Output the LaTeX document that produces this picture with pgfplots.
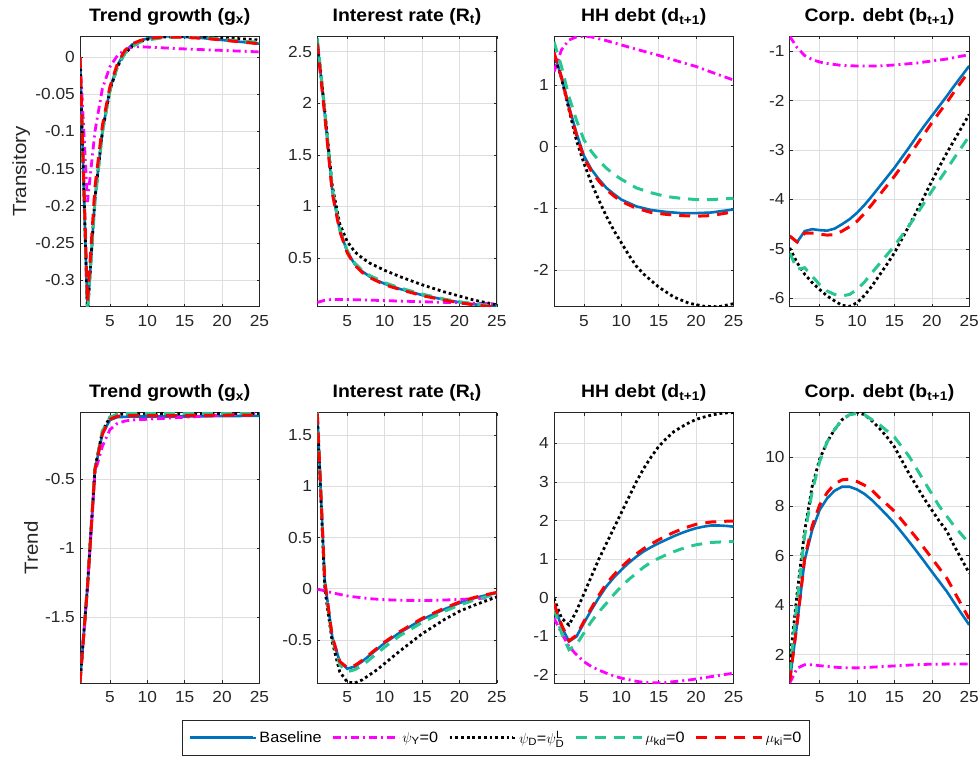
\documentclass[border=0pt]{standalone}
\usepackage{fontspec}
\setmainfont{Liberation Sans}[FakeStretch=1.08]
\usepackage{amsmath}
\usepackage{pgfplots}
\pgfplotsset{compat=1.18}

\definecolor{mblue}{rgb}{0,0.447,0.741}
\definecolor{mmag}{rgb}{1,0,1}
\definecolor{mgreen}{rgb}{0.15,0.78,0.57}
\definecolor{mred}{rgb}{1,0,0}
\definecolor{axgray}{rgb}{0.15,0.15,0.15}
\definecolor{gridgray}{rgb}{0.87,0.87,0.87}

\pgfplotsset{
  panel/.style={
    width=179.5pt, height=270.5pt, scale only axis,
    anchor=north west,
    xmin=1, xmax=25, xtick={5,10,15,20,25},
    grid=major, major grid style={gridgray, line width=0.6pt},
    tick align=inside, major tick length=3pt,
    axis line style={axgray, line width=0.7pt},
    tick style={axgray, line width=0.6pt},
    scaled ticks=false,
    /pgf/number format/.cd, fixed, precision=2, assume math mode=true,
    /pgfplots/.cd,
    ticklabel style={font=\fontsize{16}{18}\selectfont, text=axgray},
    xticklabel style={anchor=north, inner sep=0pt, yshift=-8.5pt},
    yticklabel style={anchor=east, inner sep=0pt, xshift=-5pt},
    title style={at={(0.5,1)}, anchor=base, yshift=9pt, inner sep=0pt,
                 font=\bfseries\fontsize{18}{20}\selectfont},
    ylabel style={anchor=center, font=\fontsize{19}{21}\selectfont, text=axgray},
  },
  sBase/.style={mblue, line width=2.6pt, solid},
  sPsiY/.style={mmag, line width=2.8pt, dash pattern=on 8pt off 4pt on 2pt off 4pt},
  sPsiD/.style={black, line width=2.8pt, dash pattern=on 2.8pt off 2.9pt},
  sMukd/.style={mgreen, line width=3pt, dash pattern=on 11pt off 8pt},
  sMuki/.style={mred, line width=3pt, dash pattern=on 11pt off 8pt},
}

\begin{document}
\begin{tikzpicture}[x=1pt,y=1pt]
\path[use as bounding box] (0,0) rectangle (980,-759);

% ---------- Row 1: transitory shock ----------
\begin{axis}[panel, at={(80pt,-36.3pt)},
  title={Trend growth (g\textsubscript{x})},
  ymin=-0.336, ymax=0.028, ytick={-0.3,-0.25,...,0.01},
  ylabel={Transitory}, ylabel style={at={(axis description cs:-0.327,0.5)}}]
\addplot[sBase] coordinates {(1,0)(2,-0.345)(3,-0.19)(4,-0.10)(5,-0.043)(6,-0.011)(7,0.007)(8,0.017)(9,0.022)(10,0.025)(11,0.027)(12,0.028)(13,0.028)(14,0.028)(15,0.027)(17,0.026)(19,0.024)(21,0.022)(23,0.02)(25,0.018)};
\addplot[sPsiY] coordinates {(1,0)(2,-0.195)(3,-0.10)(4,-0.042)(5,-0.013)(6,0.002)(7,0.010)(8,0.0135)(9,0.014)(10,0.0135)(12,0.0125)(15,0.011)(20,0.009)(25,0.007)};
\addplot[sPsiD] coordinates {(1,0)(2,-0.345)(3,-0.19)(4,-0.10)(5,-0.045)(6,-0.013)(7,0.005)(8,0.015)(9,0.021)(10,0.024)(12,0.027)(14,0.028)(16,0.028)(18,0.027)(20,0.026)(22,0.025)(25,0.023)};
\addplot[sMukd] coordinates {(1,0)(2,-0.345)(3,-0.195)(4,-0.10)(5,-0.045)(6,-0.013)(7,0.005)(8,0.014)(9,0.02)(10,0.023)(12,0.026)(14,0.027)(16,0.027)(18,0.026)(20,0.024)(22,0.022)(25,0.02)};
\addplot[sMuki] coordinates {(1,0)(2,-0.33)(3,-0.175)(4,-0.092)(5,-0.04)(6,-0.009)(7,0.009)(8,0.018)(9,0.022)(10,0.025)(12,0.027)(14,0.027)(16,0.026)(18,0.025)(20,0.023)(22,0.021)(25,0.018)};
\end{axis}

\begin{axis}[panel, at={(317.3pt,-36.3pt)},
  title={Interest rate (R\textsubscript{t})},
  ymin=0.026, ymax=2.65, ytick={0.5,1,1.5,2,2.5}]
\addplot[sBase] coordinates {(1,2.6)(2,1.9)(3,1.15)(4,0.77)(5,0.56)(6,0.44)(7,0.37)(8,0.32)(9,0.28)(10,0.25)(12,0.2)(15,0.14)(18,0.095)(20,0.07)(22,0.05)(25,0.025)};
\addplot[sPsiY] coordinates {(1,0.068)(2,0.09)(3,0.097)(5,0.097)(7,0.093)(10,0.086)(15,0.075)(20,0.065)(25,0.055)};
\addplot[sPsiD] coordinates {(1,2.6)(2,1.93)(3,1.2)(4,0.83)(5,0.66)(6,0.56)(7,0.5)(8,0.45)(10,0.38)(12,0.32)(15,0.24)(18,0.17)(20,0.13)(22,0.09)(25,0.045)};
\addplot[sMukd] coordinates {(1,2.63)(2,1.93)(3,1.17)(4,0.78)(5,0.57)(6,0.45)(7,0.38)(8,0.33)(10,0.26)(12,0.21)(15,0.15)(18,0.1)(20,0.075)(22,0.055)(25,0.03)};
\addplot[sMuki] coordinates {(1,2.58)(2,1.88)(3,1.13)(4,0.76)(5,0.55)(6,0.43)(7,0.36)(8,0.31)(10,0.24)(12,0.195)(15,0.135)(18,0.09)(20,0.065)(22,0.045)(25,0.02)};
\end{axis}

\begin{axis}[panel, at={(554pt,-36.3pt)},
  title={HH debt (d\textsubscript{t+1})},
  ymin=-2.6, ymax=1.79, ytick={-2,-1,0,1}]
\addplot[sBase] coordinates {(1,1.51)(2,1.13)(3,0.65)(4,0.22)(5,-0.15)(6,-0.37)(7,-0.53)(8,-0.67)(9,-0.77)(10,-0.86)(12,-0.97)(14,-1.03)(16,-1.06)(18,-1.08)(20,-1.08)(22,-1.07)(25,-1.02)};
\addplot[sPsiY] coordinates {(1,1.21)(2,1.57)(3,1.73)(4,1.78)(5,1.79)(6,1.78)(7,1.75)(8,1.72)(10,1.65)(12,1.58)(15,1.48)(18,1.37)(20,1.30)(22,1.21)(25,1.08)};
\addplot[sPsiD] coordinates {(1,1.5)(2,1.11)(3,0.6)(4,0.1)(5,-0.27)(6,-0.59)(7,-0.87)(8,-1.13)(9,-1.36)(10,-1.56)(11,-1.76)(12,-1.94)(13,-2.07)(15,-2.28)(17,-2.44)(19,-2.54)(21,-2.59)(23,-2.6)(25,-2.55)};
\addplot[sMukd] coordinates {(1,1.70)(2,1.3)(3,0.81)(4,0.43)(5,0.11)(6,-0.08)(7,-0.23)(8,-0.35)(9,-0.45)(10,-0.53)(12,-0.67)(14,-0.75)(16,-0.81)(18,-0.84)(20,-0.86)(22,-0.86)(25,-0.84)};
\addplot[sMuki] coordinates {(1,1.53)(2,1.12)(3,0.62)(4,0.19)(5,-0.18)(6,-0.4)(7,-0.56)(8,-0.7)(9,-0.8)(10,-0.89)(12,-1.0)(14,-1.07)(16,-1.1)(18,-1.12)(20,-1.13)(22,-1.12)(25,-1.06)};
\end{axis}

\begin{axis}[panel, at={(789.7pt,-36.3pt)},
  title={Corp. debt (b\textsubscript{t+1})},
  ymin=-6.17, ymax=-0.70, ytick={-6,-5,-4,-3,-2,-1}]
\addplot[sBase] coordinates {(1,-4.74)(2,-4.86)(3,-4.64)(4,-4.6)(5,-4.62)(6,-4.63)(7,-4.59)(8,-4.5)(9,-4.4)(10,-4.27)(11,-4.11)(12,-3.93)(13,-3.74)(14,-3.55)(15,-3.36)(16,-3.15)(17,-2.94)(18,-2.72)(19,-2.51)(20,-2.31)(21,-2.11)(22,-1.91)(23,-1.7)(24,-1.5)(25,-1.30)};
\addplot[sPsiY] coordinates {(1,-0.70)(2,-0.93)(3,-1.09)(4,-1.17)(5,-1.22)(6,-1.25)(7,-1.27)(8,-1.29)(10,-1.30)(13,-1.30)(15,-1.28)(18,-1.24)(20,-1.2)(22,-1.16)(25,-1.07)};
\addplot[sPsiD] coordinates {(1,-4.98)(2,-5.28)(3,-5.51)(4,-5.68)(5,-5.82)(6,-5.95)(7,-6.05)(8,-6.14)(9,-6.16)(10,-6.09)(11,-5.94)(12,-5.75)(13,-5.53)(14,-5.31)(15,-5.08)(16,-4.8)(17,-4.52)(18,-4.23)(19,-3.93)(20,-3.63)(21,-3.34)(22,-3.06)(23,-2.8)(24,-2.54)(25,-2.28)};
\addplot[sMukd] coordinates {(1,-5.08)(2,-5.41)(3,-5.38)(4,-5.55)(5,-5.72)(6,-5.85)(7,-5.92)(8,-5.95)(9,-5.92)(10,-5.82)(11,-5.67)(12,-5.48)(13,-5.3)(14,-5.12)(15,-4.94)(16,-4.73)(17,-4.52)(18,-4.3)(19,-4.06)(20,-3.83)(21,-3.61)(22,-3.39)(23,-3.16)(24,-2.94)(25,-2.72)};
\addplot[sMuki] coordinates {(1,-4.74)(2,-4.86)(3,-4.68)(4,-4.68)(5,-4.7)(6,-4.72)(7,-4.71)(8,-4.64)(9,-4.55)(10,-4.44)(11,-4.28)(12,-4.1)(13,-3.91)(14,-3.72)(15,-3.53)(16,-3.32)(17,-3.1)(18,-2.89)(19,-2.67)(20,-2.45)(21,-2.24)(22,-2.04)(23,-1.82)(24,-1.61)(25,-1.40)};
\end{axis}

% ---------- Row 2: trend shock ----------
\begin{axis}[panel, at={(80pt,-412.5pt)},
  title={Trend growth (g\textsubscript{x})},
  ymin=-1.974, ymax=-0.016, ytick={-1.5,-1,-0.5},
  ylabel={Trend}, ylabel style={at={(axis description cs:-0.272,0.5)}},
  legend style={at={(2.3175,-0.2033)}, anchor=center, legend columns=5,
    draw=axgray, line width=0.6pt, fill=white,
    font=\fontsize{15}{17}\selectfont, inner xsep=6pt, inner ysep=8.5pt,
    /tikz/every even column/.append style={column sep=8pt}},
  legend image code/.code={\draw[#1, line width=3pt] (0pt,0pt) -- (63pt,0pt); \path (0pt,0pt) -- (66pt,0pt);}]
\addplot[sBase] coordinates {(1,-1.97)(2,-1.28)(3,-0.43)(4,-0.17)(5,-0.07)(6,-0.05)(8,-0.045)(10,-0.045)(15,-0.045)(20,-0.042)(25,-0.04)};
\addlegendentry{Baseline}
\addplot[sPsiY] coordinates {(1,-1.97)(2,-1.28)(3,-0.45)(4,-0.26)(5,-0.14)(6,-0.095)(7,-0.078)(8,-0.07)(10,-0.065)(15,-0.05)(20,-0.035)(25,-0.02)};
\addlegendentry{$\psi_{\text{Y}}$=0}
\addplot[sPsiD] coordinates {(1,-1.97)(2,-1.27)(3,-0.42)(4,-0.15)(5,-0.05)(6,-0.03)(8,-0.025)(10,-0.025)(15,-0.025)(20,-0.024)(25,-0.023)};
\addlegendentry{$\psi_{\text{D}}$=$\psi_{\text{D}}^{\text{L}}$}
\addplot[sMukd] coordinates {(1,-1.97)(2,-1.27)(3,-0.42)(4,-0.15)(5,-0.05)(6,-0.028)(8,-0.022)(10,-0.022)(15,-0.022)(20,-0.022)(25,-0.022)};
\addlegendentry{$\mu_{\text{kd}}$=0}
\addplot[sMuki] coordinates {(1,-1.97)(2,-1.28)(3,-0.43)(4,-0.17)(5,-0.065)(6,-0.042)(8,-0.038)(10,-0.038)(15,-0.038)(20,-0.036)(25,-0.035)};
\addlegendentry{$\mu_{\text{ki}}$=0}
\end{axis}

\begin{axis}[panel, at={(317.3pt,-412.5pt)},
  title={Interest rate (R\textsubscript{t})},
  ymin=-0.92, ymax=1.72, ytick={-0.5,0,0.5,1,1.5}]
\addplot[sBase] coordinates {(1,1.71)(2,0.08)(3,-0.47)(4,-0.71)(5,-0.78)(6,-0.76)(7,-0.71)(8,-0.65)(9,-0.59)(10,-0.53)(12,-0.43)(15,-0.3)(18,-0.2)(20,-0.14)(22,-0.09)(25,-0.04)};
\addplot[sPsiY] coordinates {(1,-0.005)(2,-0.02)(3,-0.04)(4,-0.055)(5,-0.07)(6,-0.08)(8,-0.097)(10,-0.107)(12,-0.112)(14,-0.115)(16,-0.114)(18,-0.11)(20,-0.105)(22,-0.097)(25,-0.085)};
\addplot[sPsiD] coordinates {(1,1.7)(2,0.0)(3,-0.52)(4,-0.81)(5,-0.91)(6,-0.92)(7,-0.89)(8,-0.84)(9,-0.79)(10,-0.73)(12,-0.61)(15,-0.44)(18,-0.3)(20,-0.22)(22,-0.16)(25,-0.08)};
\addplot[sMukd] coordinates {(1,1.72)(2,0.06)(3,-0.49)(4,-0.74)(5,-0.81)(6,-0.79)(7,-0.75)(8,-0.69)(9,-0.63)(10,-0.57)(12,-0.46)(15,-0.33)(18,-0.22)(20,-0.16)(22,-0.11)(25,-0.05)};
\addplot[sMuki] coordinates {(1,1.71)(2,0.07)(3,-0.47)(4,-0.71)(5,-0.77)(6,-0.75)(7,-0.7)(8,-0.64)(9,-0.58)(10,-0.52)(12,-0.42)(15,-0.29)(18,-0.19)(20,-0.13)(22,-0.085)(25,-0.035)};
\end{axis}

\begin{axis}[panel, at={(554pt,-412.5pt)},
  title={HH debt (d\textsubscript{t+1})},
  ymin=-2.215, ymax=4.80, ytick={-2,-1,0,1,2,3,4}]
\addplot[sBase] coordinates {(1,-0.19)(2,-0.75)(3,-1.14)(4,-1.01)(5,-0.66)(6,-0.32)(7,0.0)(8,0.29)(9,0.52)(10,0.72)(11,0.9)(12,1.06)(13,1.2)(14,1.31)(15,1.41)(16,1.5)(17,1.59)(18,1.67)(19,1.74)(20,1.8)(21,1.84)(22,1.87)(23,1.87)(24,1.86)(25,1.84)};
\addplot[sPsiY] coordinates {(1,-0.53)(2,-0.92)(3,-1.27)(4,-1.48)(5,-1.66)(6,-1.79)(7,-1.88)(8,-1.96)(9,-2.03)(10,-2.09)(11,-2.13)(12,-2.17)(13,-2.2)(14,-2.21)(15,-2.21)(16,-2.2)(17,-2.18)(18,-2.16)(19,-2.14)(20,-2.11)(21,-2.08)(22,-2.05)(23,-2.02)(24,-1.99)(25,-1.96)};
\addplot[sPsiD] coordinates {(1,-0.02)(2,-0.53)(3,-0.71)(4,-0.35)(5,0.1)(6,0.55)(7,1.0)(8,1.4)(9,1.8)(10,2.2)(11,2.6)(12,3.0)(13,3.35)(14,3.65)(15,3.92)(16,4.12)(17,4.3)(18,4.42)(19,4.53)(20,4.62)(21,4.68)(22,4.73)(23,4.77)(24,4.79)(25,4.8)};
\addplot[sMukd] coordinates {(1,-0.27)(2,-0.92)(3,-1.35)(4,-1.22)(5,-0.92)(6,-0.62)(7,-0.37)(8,-0.15)(9,0.08)(10,0.29)(11,0.47)(12,0.63)(13,0.79)(14,0.92)(15,1.02)(16,1.11)(17,1.19)(18,1.26)(19,1.32)(20,1.37)(21,1.4)(22,1.43)(23,1.44)(24,1.45)(25,1.45)};
\addplot[sMuki] coordinates {(1,-0.15)(2,-0.7)(3,-1.12)(4,-0.98)(5,-0.62)(6,-0.27)(7,0.06)(8,0.36)(9,0.59)(10,0.79)(11,0.97)(12,1.13)(13,1.27)(14,1.39)(15,1.5)(16,1.6)(17,1.69)(18,1.77)(19,1.84)(20,1.9)(21,1.93)(22,1.96)(23,1.97)(24,1.98)(25,1.98)};
\end{axis}

\begin{axis}[panel, at={(789.7pt,-412.5pt)},
  title={Corp. debt (b\textsubscript{t+1})},
  ymin=0.86, ymax=11.79, ytick={2,4,6,8,10}]
\addplot[sBase] coordinates {(1,0.93)(2,3.28)(3,5.83)(4,7.04)(5,7.85)(6,8.32)(7,8.63)(8,8.79)(9,8.79)(10,8.68)(11,8.5)(12,8.25)(13,7.95)(14,7.64)(15,7.31)(16,6.94)(17,6.56)(18,6.17)(19,5.77)(20,5.36)(21,4.96)(22,4.56)(23,4.1)(24,3.65)(25,3.21)};
\addplot[sPsiY] coordinates {(1,0.86)(2,1.46)(3,1.6)(4,1.6)(5,1.56)(6,1.53)(7,1.5)(8,1.48)(10,1.47)(12,1.5)(15,1.55)(18,1.6)(20,1.62)(25,1.63)};
\addplot[sPsiD] coordinates {(1,1.67)(2,4.5)(3,7.0)(4,8.8)(5,9.9)(6,10.6)(7,11.1)(8,11.5)(9,11.7)(10,11.8)(11,11.7)(12,11.45)(13,11.15)(14,10.8)(15,10.4)(16,9.85)(17,9.3)(18,8.8)(19,8.3)(20,7.85)(21,7.4)(22,7.0)(23,6.4)(24,5.85)(25,5.3)};
\addplot[sMukd] coordinates {(1,1.26)(2,4.2)(3,6.8)(4,8.6)(5,9.8)(6,10.6)(7,11.1)(8,11.5)(9,11.7)(10,11.75)(11,11.7)(12,11.5)(13,11.3)(14,11.05)(15,10.8)(16,10.4)(17,10.0)(18,9.5)(19,9.0)(20,8.5)(21,8.0)(22,7.6)(23,7.2)(24,6.85)(25,6.5)};
\addplot[sMuki] coordinates {(1,0.93)(2,3.3)(3,5.9)(4,7.2)(5,8.05)(6,8.55)(7,8.9)(8,9.07)(9,9.1)(10,9.0)(11,8.85)(12,8.65)(13,8.35)(14,8.08)(15,7.8)(16,7.44)(17,7.07)(18,6.7)(19,6.3)(20,5.9)(21,5.5)(22,5.1)(23,4.55)(24,4.0)(25,3.45)};
\end{axis}
\end{tikzpicture}
\end{document}
